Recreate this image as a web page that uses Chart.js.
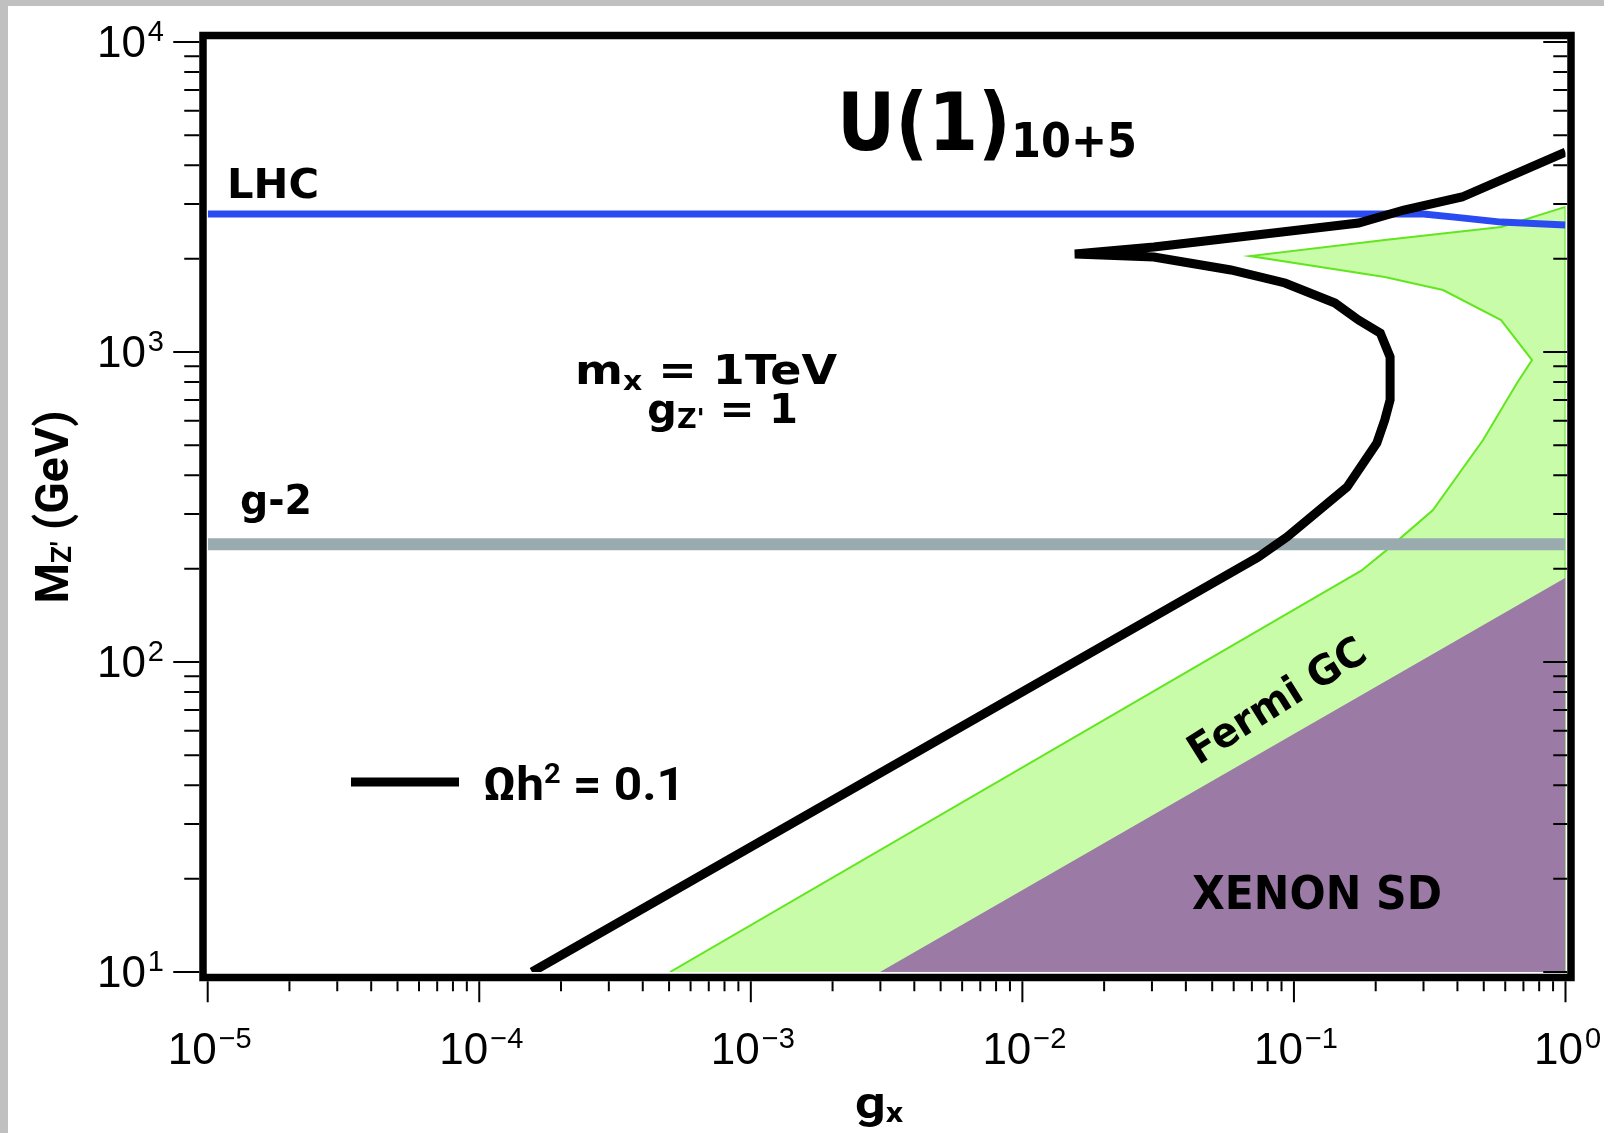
<!DOCTYPE html>
<html lang="en">

<head>
  <meta charset="UTF-8">
  <title>U(1) 10+5</title>
  <script src="https://cdn.jsdelivr.net/npm/chart.js"></script>
  <style>
    html, body { margin: 0; padding: 0; background: #c0c0c0; overflow: hidden; }
    #grafico { position: absolute; left: 8px; top: 6px; background: #ffffff; }
  </style>
</head>

<body>
  <canvas id="grafico" width="1596" height="1127"></canvas>

<script>
  // curva Ωh² = 0.1 (g_x, M_Z')
  const relicG = [1.563e-4, 0.0738, 0.0943, 0.157, 0.202, 0.216, 0.226, 0.226, 0.208, 0.173, 0.1416, 0.0927, 0.0586, 0.0305, 0.0156, 0.0305, 0.173, 0.254, 0.416, 1];
  const relicM = [10, 218, 253, 367, 509, 604, 700, 964, 1151, 1268, 1439, 1670, 1839, 2025, 2070, 2182, 2607, 2871, 3162, 4416];

  // região Fermi GC
  const fermiG = [5.04e-4, 0.177, 0.220, 0.325, 0.497, 0.663, 0.753, 0.579, 0.354, 0.216, 0.0689, 0.216, 0.579, 1, 1];
  const fermiM = [10, 197, 230, 309, 520, 794, 942, 1268, 1585, 1746, 2040, 2298, 2531, 2938, 10];

  // região XENON SD
  const xenonG = [0.00299, 1, 1];
  const xenonM = [10, 187, 10];

  // limite LHC
  const lhcG = [1e-5, 0.30, 0.39, 0.58, 1];
  const lhcM = [2786, 2786, 2723, 2624, 2570];

  // limite g-2
  const g2G = [1e-5, 1];
  const g2M = [240, 240];

  // eixos
  const xDecadas = [-5, -4, -3, -2, -1, 0];
  const yDecadas = [1, 2, 3, 4];
  const xTickLabels = ['\u22125', '\u22124', '\u22123', '\u22122', '\u22121', '0'];
  const yTickLabels = ['1', '2', '3', '4'];


  function pontos(gs, ms) {
    return gs.map((g, i) => ({ x: g, y: ms[i] }));
  }

  function menores(decadas) {
    const lista = [];
    for (let i = 0; i < decadas.length - 1; i++) {
      for (let m = 2; m <= 9; m++) lista.push(m * Math.pow(10, decadas[i]));
    }
    return lista;
  }

  const VB = "'DejaVu Sans', 'Open Sans', sans-serif";
  const CD = "Roboto, 'Liberation Sans', sans-serif";
  const TK = "'Liberation Sans', Arial, sans-serif";

  // escreve texto com subscrito / sobrescrito, ajustado a uma largura
  function textoRico(ctx, partes, x, y, o) {
    ctx.save();
    ctx.textBaseline = 'alphabetic';
    ctx.textAlign = 'left';
    let total = 0;
    const larguras = partes.map(p => {
      ctx.font = p[1];
      const w = ctx.measureText(p[0]).width + (p[3] || 0);
      total += w;
      return w;
    });
    const sx = o.w ? o.w / total : 1;
    ctx.translate(x, y);
    if (o.rot) ctx.rotate(o.rot);
    ctx.scale(sx, 1);
    let cx = o.align === 'center' ? -total / 2 : (o.align === 'right' ? -total : 0);
    ctx.fillStyle = o.cor || '#000';
    partes.forEach((p, i) => {
      ctx.font = p[1];
      ctx.fillText(p[0], cx + (p[3] || 0), p[2] || 0);
      cx += larguras[i];
    });
    ctx.restore();
  }

  const textos = [
    { partes: [['U(1)', 'bold 80px ' + VB], ['10+5', 'bold 48px ' + VB, 7]], x: 829, y: 144, w: 300 },
    { partes: [['LHC', 'bold 41px ' + VB]], x: 219, y: 192, w: 92 },
    { partes: [['g-2', 'bold 41px ' + VB]], x: 232, y: 508, w: 72 },
    { partes: [['m', 'bold 40px ' + VB], ['x', 'bold 26px ' + VB, 6], [' = 1TeV', 'bold 40px ' + VB]], x: 567, y: 378, w: 262 },
    { partes: [['g', 'bold 40px ' + VB], ["Z'", 'bold 26px ' + VB, 5], [' = 1', 'bold 40px ' + VB]], x: 639, y: 417, w: 151 },
    { partes: [['XENON SD', 'bold 46px ' + VB]], x: 1184, y: 903, w: 250 },
    { partes: [['Fermi GC', 'bold 41px ' + VB]], x: 1276, y: 706, w: 202, align: 'center', rot: -32 * Math.PI / 180 },
    { partes: [['M', 'bold 46px ' + CD], ["Z'", 'bold 28px ' + CD, 3], [' (GeV)', 'bold 46px ' + CD]], x: 60, y: 501, w: 193, align: 'center', rot: -Math.PI / 2 },
    { partes: [['g', 'bold 44px ' + CD], ['x', 'bold 28px ' + CD, 4]], x: 847, y: 1112, w: 48 }
  ];

  const legenda = {
    partes: [['\u03A9h', 'bold 46px ' + CD], ['2', 'bold 27px ' + CD, -17], [' = 0.1', 'bold 46px ' + CD]],
    x: 475, y: 794, w: 202, linha: [343, 451, 776]
  };

  // moldura, marcas dos eixos, rótulos e anotações
  const moldura = {
    id: 'moldura',
    afterDatasetsDraw(chart) {
      const { ctx, chartArea: a, scales: { x, y } } = chart;
      const fl = a.left - 4.7, fr = a.right + 5.5, ft = a.top - 6.5, fb = a.bottom + 5.5;
      const lw = 7.5;

      ctx.save();
      ctx.strokeStyle = '#000';
      ctx.lineWidth = 2;
      ctx.beginPath();
      // eixo y: fora à esquerda, dentro à direita
      yDecadas.forEach(d => {
        const py = y.getPixelForValue(Math.pow(10, d));
        ctx.moveTo(fl - lw / 2, py); ctx.lineTo(fl - lw / 2 - 26, py);
        ctx.moveTo(fr - lw / 2, py); ctx.lineTo(fr - lw / 2 - 24, py);
      });
      menores(yDecadas).forEach(v => {
        const py = y.getPixelForValue(v);
        ctx.moveTo(fl - lw / 2, py); ctx.lineTo(fl - lw / 2 - 15, py);
        ctx.moveTo(fr - lw / 2, py); ctx.lineTo(fr - lw / 2 - 14, py);
      });
      // eixo x: fora em baixo
      xDecadas.forEach(d => {
        const px = x.getPixelForValue(Math.pow(10, d));
        ctx.moveTo(px, fb + lw / 2); ctx.lineTo(px, fb + lw / 2 + 21);
      });
      menores(xDecadas).forEach(v => {
        const px = x.getPixelForValue(v);
        ctx.moveTo(px, fb + lw / 2); ctx.lineTo(px, fb + lw / 2 + 10);
      });
      ctx.stroke();

      ctx.lineWidth = lw;
      ctx.lineJoin = 'miter';
      ctx.strokeRect(fl, ft, fr - fl, fb - ft);
      ctx.restore();

      // rótulos das marcas
      yDecadas.forEach((d, i) => {
        const py = y.getPixelForValue(Math.pow(10, d));
        textoRico(ctx, [['10', '44px ' + TK], [yTickLabels[i], '29px ' + TK, -16, 2]], 156, py + 15, { align: 'right' });
      });
      xDecadas.forEach((d, i) => {
        const px = x.getPixelForValue(Math.pow(10, d));
        textoRico(ctx, [['10', '44px ' + TK], [xTickLabels[i], '29px ' + TK, -16, 2]], px + 2, 1058, { align: 'center' });
      });

      textos.forEach(t => textoRico(ctx, t.partes, t.x, t.y, t));

      // legenda da curva de relíquia
      const [x0, x1, ly] = legenda.linha;
      ctx.save();
      ctx.strokeStyle = '#000';
      ctx.lineWidth = 9;
      ctx.beginPath();
      ctx.moveTo(x0, ly); ctx.lineTo(x1, ly);
      ctx.stroke();
      ctx.restore();
      textoRico(ctx, legenda.partes, legenda.x, legenda.y, legenda);
    }
  };

  const grafico = document.getElementById('grafico');

  new Chart(grafico, {
    type: 'line',
    data: {
      datasets: [{
        label: '\u03A9h\u00B2 = 0.1',
        data: pontos(relicG, relicM),
        borderColor: '#000000',
        borderWidth: 9,
        fill: false,
        order: 0
      }, {
        label: 'LHC',
        data: pontos(lhcG, lhcM),
        borderColor: '#2a4bf2',
        borderWidth: 7,
        fill: false,
        order: 1
      }, {
        label: 'g-2',
        data: pontos(g2G, g2M),
        borderColor: '#9aabb0',
        borderWidth: 12,
        fill: false,
        order: 2
      }, {
        label: 'XENON SD',
        data: pontos(xenonG, xenonM),
        borderWidth: 0,
        borderColor: 'rgba(0,0,0,0)',
        backgroundColor: '#9c7aa6',
        fill: 'shape',
        order: 3
      }, {
        label: 'Fermi GC',
        data: pontos(fermiG, fermiM),
        borderColor: '#62e620',
        borderWidth: 2,
        backgroundColor: '#c8fca8',
        fill: 'shape',
        order: 4
      }]
    },
    options: {
      responsive: false,
      animation: false,
      events: [],
      elements: {
        point: { radius: 0 },
        line: { tension: 0 }
      },
      layout: {
        padding: { left: 199.7, top: 36, right: 38.5, bottom: 161 }
      },
      plugins: {
        legend: { display: false },
        tooltip: { enabled: false }
      },
      scales: {
        x: {
          type: 'logarithmic',
          min: 1e-5,
          max: 1,
          display: false
        },
        y: {
          type: 'logarithmic',
          min: 10,
          max: 10000,
          display: false
        }
      }
    },
    plugins: [moldura]
  });
</script>
</body>

</html>
